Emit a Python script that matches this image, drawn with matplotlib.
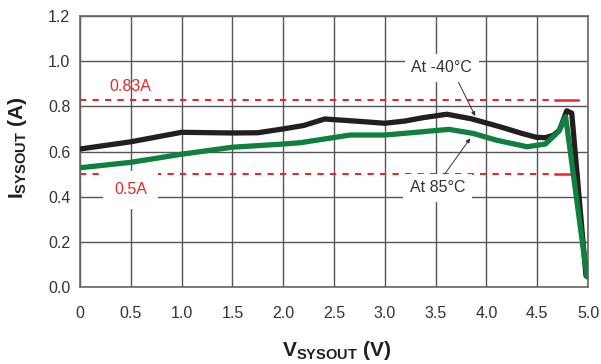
import numpy as np
import matplotlib
matplotlib.use('Agg')
import matplotlib.pyplot as plt

plt.rcParams['font.family'] = ['Liberation Sans', 'DejaVu Sans']
plt.rcParams['mathtext.fontset'] = 'custom'
plt.rcParams['mathtext.rm'] = 'Liberation Sans'
plt.rcParams['mathtext.bf'] = 'Liberation Sans:bold'

# curva a -40°C (negra)
v_frio = [0.0, 0.5, 1.0, 1.5, 1.75, 2.0, 2.2, 2.41, 2.7, 3.0, 3.2, 3.38, 3.61, 3.85, 4.13, 4.35, 4.49, 4.58, 4.66, 4.72, 4.79, 4.84, 4.98]
i_frio = [0.611, 0.643, 0.685, 0.682, 0.683, 0.70, 0.715, 0.744, 0.735, 0.725, 0.735, 0.750, 0.765, 0.745, 0.71, 0.68, 0.663, 0.661, 0.672, 0.695, 0.78, 0.77, 0.05]

# curva a 85°C (verde)
v_cal = [0.0, 0.5, 1.0, 1.5, 2.0, 2.17, 2.4, 2.66, 3.0, 3.31, 3.63, 3.87, 4.1, 4.40, 4.58, 4.71, 4.78, 4.99]
i_cal = [0.528, 0.552, 0.588, 0.619, 0.633, 0.639, 0.655, 0.673, 0.673, 0.685, 0.698, 0.68, 0.65, 0.621, 0.633, 0.688, 0.754, 0.045]

x_ticks = [0, 0.5, 1.0, 1.5, 2.0, 2.5, 3.0, 3.5, 4.0, 4.5, 5.0]
x_labels = ['0', '0.5', '1.0', '1.5', '2.0', '2.5', '3.0', '3.5', '4.0', '4.5', '5.0']
y_ticks = [0.0, 0.2, 0.4, 0.6, 0.8, 1.0, 1.2]
y_labels = ['0.0', '0.2', '0.4', '0.6', '0.8', '1.0', '1.2']

limites = [0.83, 0.5]

fig = plt.figure(figsize=(6.01, 3.64), dpi=100)
ax = fig.add_axes([80 / 601, 1 - 287 / 364, 508 / 601, 271 / 364])

ax.set_xlim(0, 5)
ax.set_ylim(0, 1.2)
ax.set_xticks(x_ticks)
ax.set_xticklabels(x_labels)
ax.set_yticks(y_ticks)
ax.set_yticklabels(y_labels)
ax.tick_params(length=0, labelsize=11.5, colors='#333333', pad=7)
ax.tick_params(axis='x', pad=14)
ax.grid(True, color='#555555', linewidth=1.0)
ax.set_axisbelow(True)
for s in ax.spines.values():
    s.set_color('#666666')
    s.set_linewidth(1.2)

# líneas de límite
for lim in limites:
    ax.plot([0, 4.68], [lim, lim], color='#e8262b', linestyle=(0, (3, 3)), linewidth=1.5, zorder=2)
    ax.plot([4.68, 4.9], [lim, lim], color='#e8262b', linewidth=1.8, zorder=2)

ax.plot(v_frio, i_frio, color='#231f20', linewidth=3.8, solid_capstyle='round', solid_joinstyle='round', zorder=3)
ax.plot(v_cal, i_cal, color='#0f8040', linewidth=3.8, solid_capstyle='round', solid_joinstyle='round', zorder=4)

ax.text(0.5, 0.887, '0.83A', color='#e8262b', fontsize=11.5, ha='center', va='center', zorder=5)
ax.text(0.5, 0.43, '0.5A', color='#e8262b', fontsize=11.5, ha='center', va='center', zorder=5,
        bbox=dict(facecolor='white', edgecolor='none', boxstyle='square,pad=0.7'))

ax.annotate('At -40°C', xy=(3.89, 0.757), xytext=(3.56, 0.97), fontsize=11.5, color='#333333',
            ha='center', va='center', zorder=5,
            bbox=dict(facecolor='white', edgecolor='none', boxstyle='square,pad=0.4'),
            arrowprops=dict(arrowstyle='-|>', color='#333333', lw=0.7, mutation_scale=6,
                            shrinkA=0, shrinkB=0, relpos=(0.72, 0.0)))
ax.annotate('At 85°C', xy=(3.84, 0.658), xytext=(3.52, 0.44), fontsize=11.5, color='#333333',
            ha='center', va='center', zorder=5,
            bbox=dict(facecolor='white', edgecolor='none', boxstyle='square,pad=0.4'),
            arrowprops=dict(arrowstyle='-|>', color='#333333', lw=0.7, mutation_scale=6,
                            shrinkA=0, shrinkB=0, relpos=(0.55, 1.0)))

fig.text(18 / 601, 1 - 148 / 364, r'$\mathbf{I_{SYSOUT}}$ $\mathbf{(A)}$', rotation=90,
         fontsize=15, ha='center', va='center', color='#231f20')
fig.text(337 / 601, 1 - 351 / 364, r'$\mathbf{V_{SYSOUT}}$ $\mathbf{(V)}$',
         fontsize=15, ha='center', va='center', color='#231f20')

fig.savefig('out.png', dpi=100)
